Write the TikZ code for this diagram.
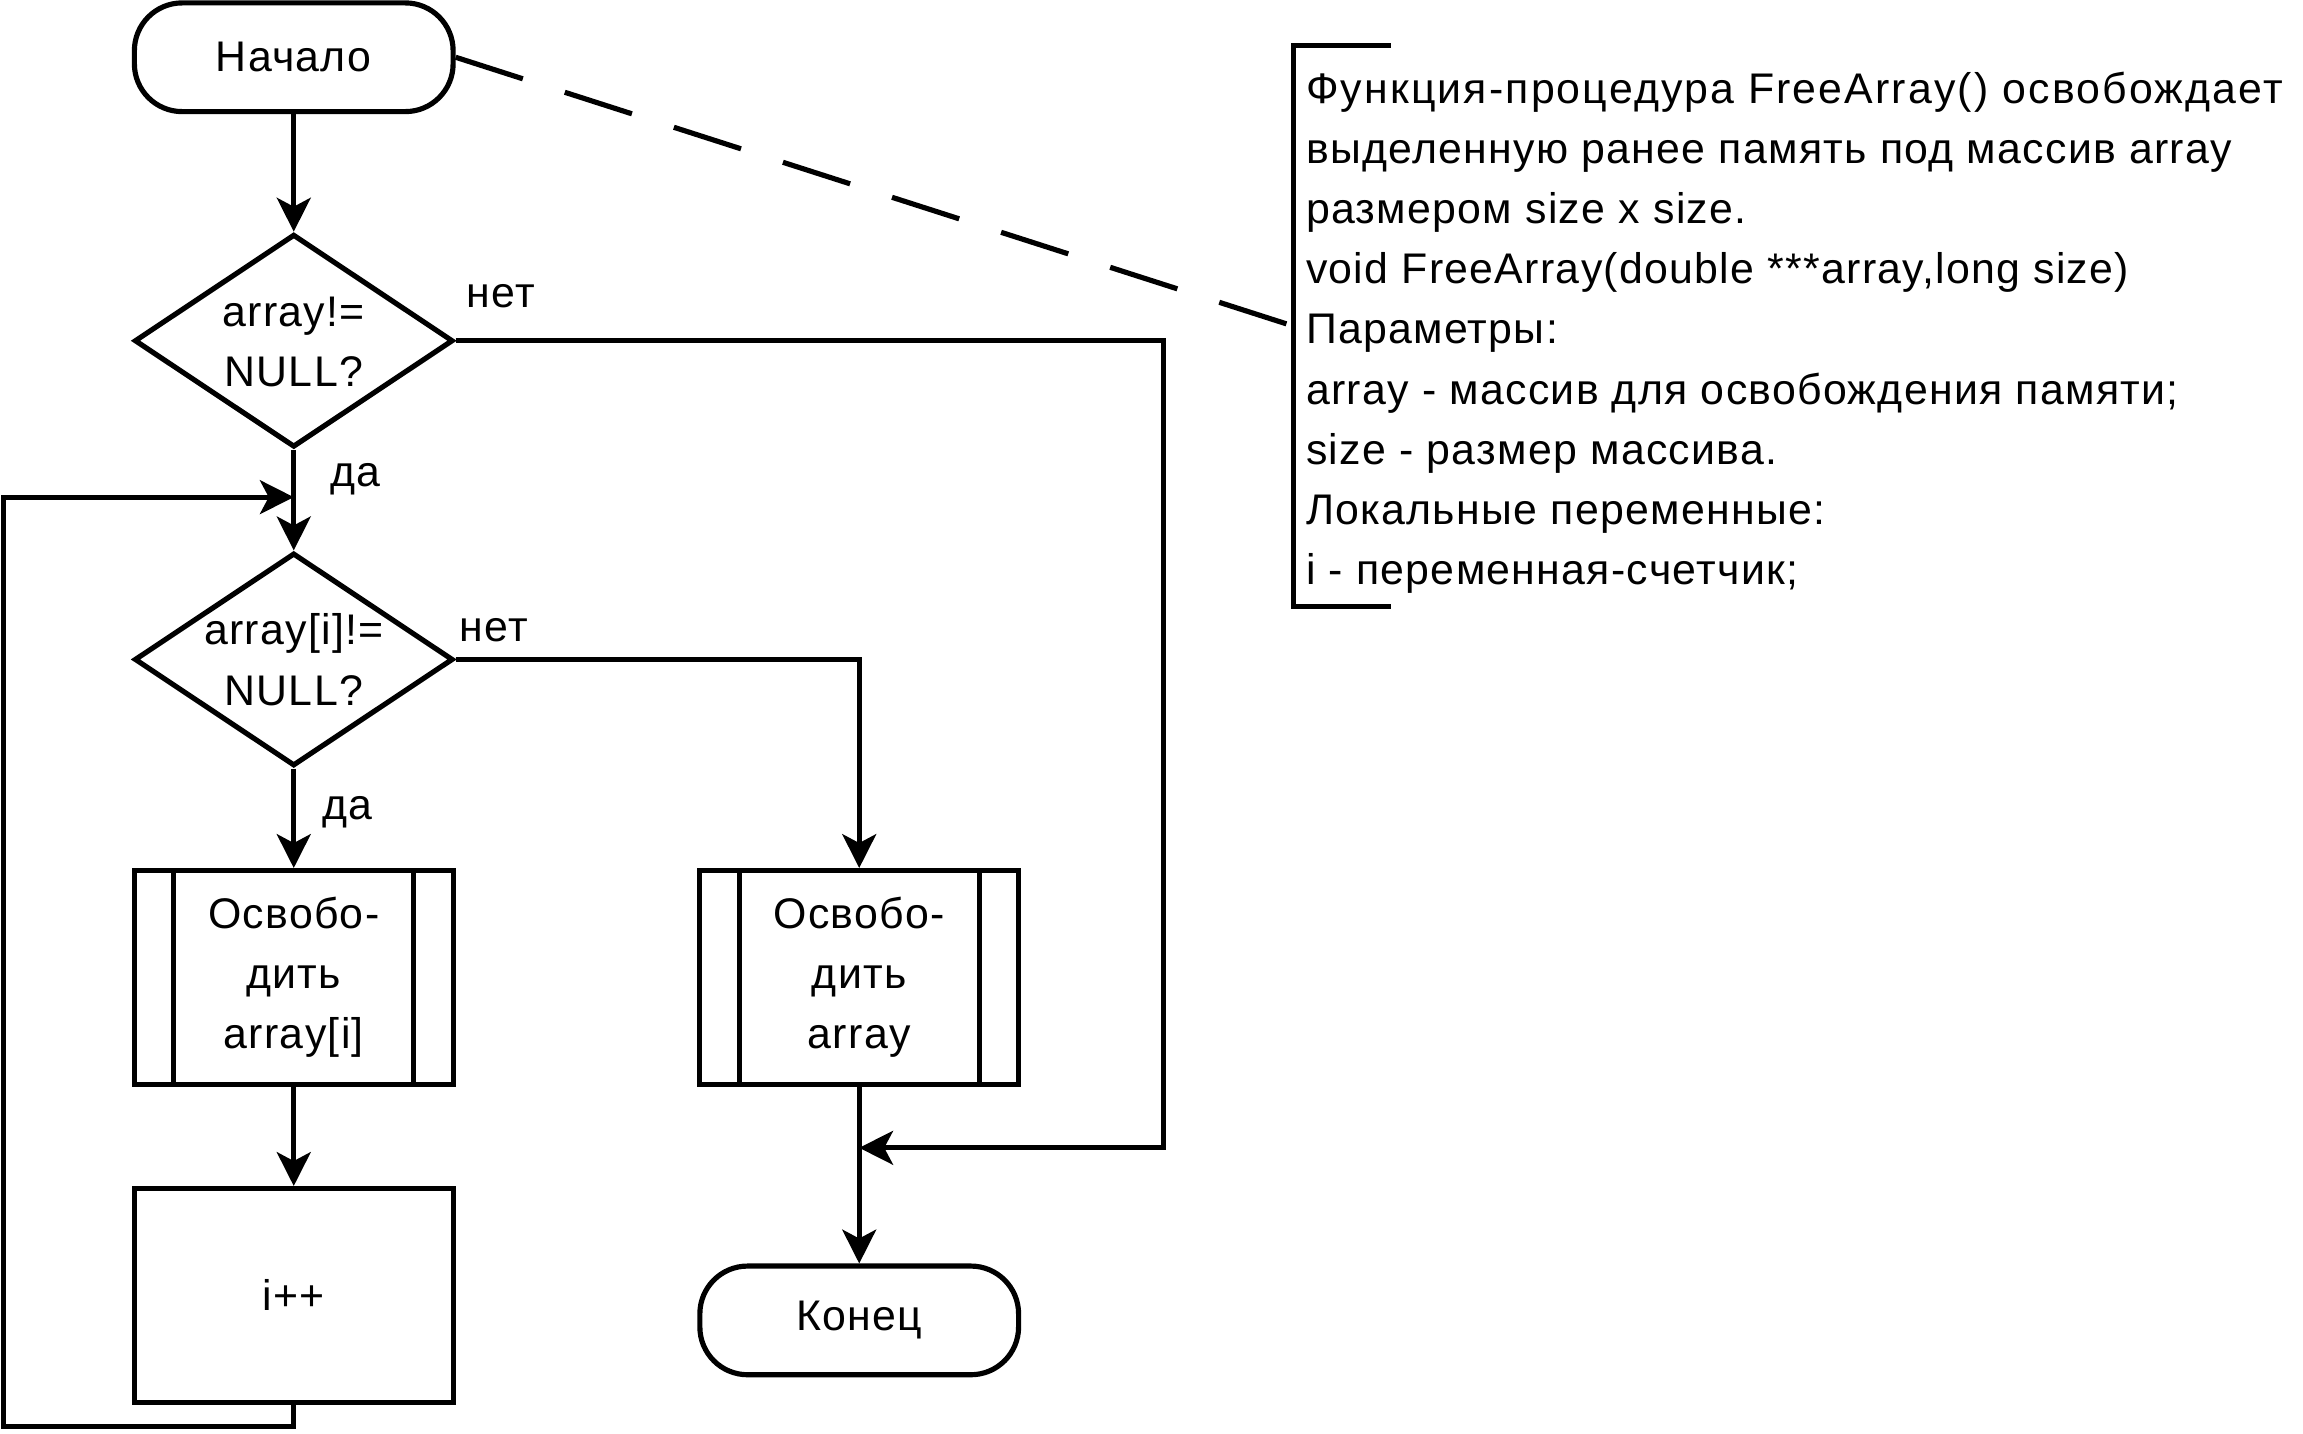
\documentclass[tikz,border=0pt]{standalone}
\usepackage{fontspec}
\setmainfont{Liberation Sans}[LetterSpace=3]
\usetikzlibrary{shapes.geometric,arrows.meta}

\tikzset{
  arr/.style={-{Stealth[length=4.6mm,width=4.6mm,inset=1.2mm]}},
  term/.style={draw, rounded corners=6.5mm, minimum width=4.34cm, minimum height=1.48cm},
  decision/.style={draw, diamond, inner sep=0pt, minimum width=4.34cm, minimum height=2.9cm},
  process/.style={draw, minimum width=4.34cm, minimum height=2.91cm, align=center},
  lbl/.style={inner sep=0pt},
}
\newcommand{\dtext}[1]{\smash{\raisebox{-2mm}{\begin{tabular}{@{}c@{}}#1\end{tabular}}}}

\begin{document}
\begin{tikzpicture}[line width=2pt, font=\fontsize{16.6}{23.3}\selectfont]
                \useasboundingbox (0,0) rectangle (31.36,19.52);
                % flowchart
                \node[term] (start) at (4,18.74) {Начало};
                \node[decision] (dec1) at (4,14.88) {\dtext{array!=\\NULL?}};
                \node[decision] (dec2) at (4,10.54) {\dtext{array[i]!=\\NULL?}};
                \node[process] (sub1) at (4,6.21) {Освобо-\\дить\\array[i]};
                \node[process] (inc) at (4,1.88) {i++};
                \node[process] (sub2) at (11.7,6.21) {Освобо-\\дить\\array};
                \node[term] (stop) at (11.7,1.54) {Конец};
                \foreach \n in {sub1,sub2} {
                    \draw ([xshift=5.7mm]\n.north west) -- ([xshift=5.7mm]\n.south west);
                    \draw ([xshift=-5.7mm]\n.north east) -- ([xshift=-5.7mm]\n.south east);
                }
                \node[lbl] (no1) at (6.82,15.48) {нет};
                \node[lbl] (yes1) at (4.84,12.99) {да};
                \node[lbl] (no2) at (6.72,10.94) {нет};
                \node[lbl] (yes2) at (4.73,8.46) {да};
                \coordinate (bypass) at (15.84,3.89);
                \coordinate (loopin) at (4,12.75);
                \coordinate (loopbot) at (0.05,0.09);
                \draw[arr] (start) -- (dec1);
                \draw[arr] (dec1) -- (dec2);
                \draw[arr] (dec2) -- (sub1);
                \draw[arr] (sub1) -- (inc);
                \draw[arr] (dec2.east) -| (sub2);
                \draw[arr] (sub2) -- (stop);
                \draw[arr] (dec1.east) -| (bypass) -- (sub2 |- bypass);
                \draw[arr] (inc) |- (loopbot) |- (loopin);
                % comment
                \node[anchor=west, inner xsep=1.4mm, minimum height=7.56cm, align=left, yshift=-0.9mm] (note) at (17.61,15.08) {\addfontfeatures{LetterSpace=5}Функция-процедура FreeArray() освобождает\\
                    выделенную ранее память под массив array\\
                    размером size x size.\\
                    void FreeArray(double ***array,long size)\\
                    Параметры:\\
                    array - массив для освобождения памяти;\\
                    size - размер массива.\\
                    Локальные переменные:\\
                    i - переменная-счетчик;};
                \draw ([shift={(13.3mm,0.9mm)}]note.north west) -- ([yshift=0.9mm]note.north west) -- ([yshift=0.9mm]note.south west) -- ([shift={(13.3mm,0.9mm)}]note.south west);
                \draw[dash pattern=on 9.6mm off 6mm] (start.east) -- ([yshift=0.9mm]note.west);
            \end{tikzpicture}
\end{document}
